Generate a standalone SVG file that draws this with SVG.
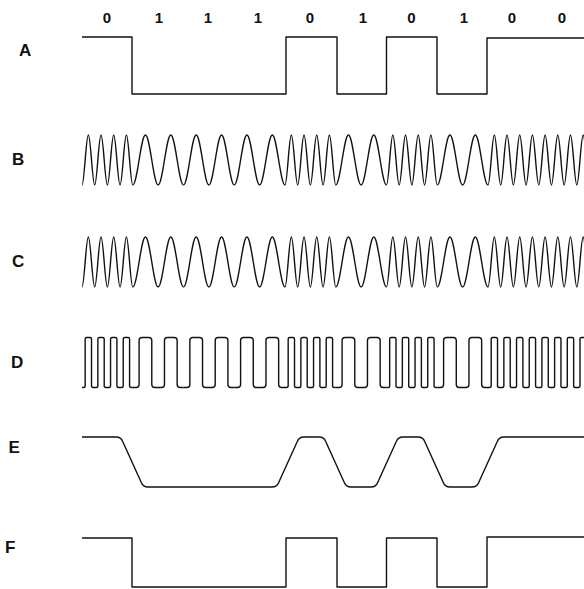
<svg xmlns="http://www.w3.org/2000/svg" width="584" height="589" viewBox="0 0 584 589">
<style>
.w{fill:none;stroke:#111;stroke-width:1.4;stroke-linejoin:round}
.lbl{font-family:"Liberation Sans",Arial,sans-serif;font-weight:bold;font-size:17px;fill:#111}
.bit{font-family:"Liberation Sans",Arial,sans-serif;font-weight:bold;font-size:15px;fill:#111;text-anchor:middle}
</style>
<defs>
<path id="s0" class="w" d="M0 0 c2.31 0 4.03 -50 6.344 -50 c2.31 0 4.03 50 6.344 50 c2.31 0 4.03 -50 6.344 -50 c2.31 0 4.03 50 6.344 50 c2.31 0 4.03 -50 6.344 -50 c2.31 0 4.03 50 6.344 50 c2.31 0 4.03 -50 6.344 -50 c2.31 0 4.03 50 6.344 50"/>
<path id="s1" class="w" d="M0 0 c4.62 0 8.07 -50 12.6875 -50 c4.62 0 8.07 50 12.6875 50 c4.62 0 8.07 -50 12.6875 -50 c4.62 0 8.07 50 12.6875 50"/>
<path id="q0" class="w" d="M0 0 h1.672 q1.5 0 1.5 -1.5 v-47 q0 -1.5 1.5 -1.5 h3.344 q1.5 0 1.5 1.5 v47 q0 1.5 1.5 1.5 h3.344 q1.5 0 1.5 -1.5 v-47 q0 -1.5 1.5 -1.5 h3.344 q1.5 0 1.5 1.5 v47 q0 1.5 1.5 1.5 h3.344 q1.5 0 1.5 -1.5 v-47 q0 -1.5 1.5 -1.5 h3.344 q1.5 0 1.5 1.5 v47 q0 1.5 1.5 1.5 h3.344 q1.5 0 1.5 -1.5 v-47 q0 -1.5 1.5 -1.5 h3.344 q1.5 0 1.5 1.5 v47 q0 1.5 1.5 1.5 h1.672"/>
<path id="q1" class="w" d="M0 0 h3.344 q3 0 3 -3 v-44 q0 -3 3 -3 h6.6875 q3 0 3 3 v44 q0 3 3 3 h6.6875 q3 0 3 -3 v-44 q0 -3 3 -3 h6.6875 q3 0 3 3 v44 q0 3 3 3 h3.344"/>
</defs>

<g id="bits">
<text class="bit" x="107" y="22.5">0</text>
<text class="bit" x="159" y="22.5">1</text>
<text class="bit" x="208" y="22.5">1</text>
<text class="bit" x="258" y="22.5">1</text>
<text class="bit" x="310" y="22.5">0</text>
<text class="bit" x="363" y="22.5">1</text>
<text class="bit" x="411.5" y="22.5">0</text>
<text class="bit" x="464" y="22.5">1</text>
<text class="bit" x="512" y="22.5">0</text>
<text class="bit" x="562" y="22.5">0</text>
</g>

<g id="rowA">
<text class="lbl" x="19" y="56">A</text>
<path class="w" d="M82 37 H132 V94 H286 V37 H337 V94 H386.5 V37 H437 V94 H487 V38 H584"/>
</g>

<g id="rowB">
<text class="lbl" x="12" y="165">B</text>
<use href="#s0" x="82" y="185"/>
<use href="#s1" x="132.75" y="185"/>
<use href="#s1" x="183.5" y="185"/>
<use href="#s1" x="234.25" y="185"/>
<use href="#s0" x="285" y="185"/>
<use href="#s1" x="335.75" y="185"/>
<use href="#s0" x="386.5" y="185"/>
<use href="#s1" x="437.25" y="185"/>
<use href="#s0" x="488" y="185"/>
<use href="#s0" x="538.75" y="185"/>
</g>

<g id="rowC">
<text class="lbl" x="12" y="267">C</text>
<use href="#s0" x="82" y="287"/>
<use href="#s1" x="132.75" y="287"/>
<use href="#s1" x="183.5" y="287"/>
<use href="#s1" x="234.25" y="287"/>
<use href="#s0" x="285" y="287"/>
<use href="#s1" x="335.75" y="287"/>
<use href="#s0" x="386.5" y="287"/>
<use href="#s1" x="437.25" y="287"/>
<use href="#s0" x="488" y="287"/>
<use href="#s0" x="538.75" y="287"/>
</g>

<g id="rowD">
<text class="lbl" x="11" y="368">D</text>
<use href="#q0" x="82" y="387.5"/>
<use href="#q1" x="132.75" y="387.5"/>
<use href="#q1" x="183.5" y="387.5"/>
<use href="#q1" x="234.25" y="387.5"/>
<use href="#q0" x="285" y="387.5"/>
<use href="#q1" x="335.75" y="387.5"/>
<use href="#q0" x="386.5" y="387.5"/>
<use href="#q1" x="437.25" y="387.5"/>
<use href="#q0" x="488" y="387.5"/>
<use href="#q0" x="538.75" y="387.5"/>
</g>

<g id="rowE">
<text class="lbl" x="8.5" y="453">E</text>
<path class="w" d="M82 437 H116 Q121 437 122.7 441.5 L141.3 482.5 Q143 487 148 487 H272 Q277 487 278.7 482.5 L297.3 441.5 Q299 437 304 437 H319 Q324 437 325.7 441.5 L344.3 482.5 Q346 487 351 487 H371 Q376 487 377.7 482.5 L396.3 441.5 Q398 437 403 437 H418 Q423 437 424.7 441.5 L443.3 482.5 Q445 487 450 487 H472 Q477 487 478.7 482.5 L497.3 441.5 Q499 437 504 437 H584"/>
</g>

<g id="rowF">
<text class="lbl" x="5" y="553">F</text>
<path class="w" d="M82 538 H132 V587 H286 V538 H337 V587 H386.5 V538 H437 V587 H487 V537 H584"/>
</g>
</svg>
